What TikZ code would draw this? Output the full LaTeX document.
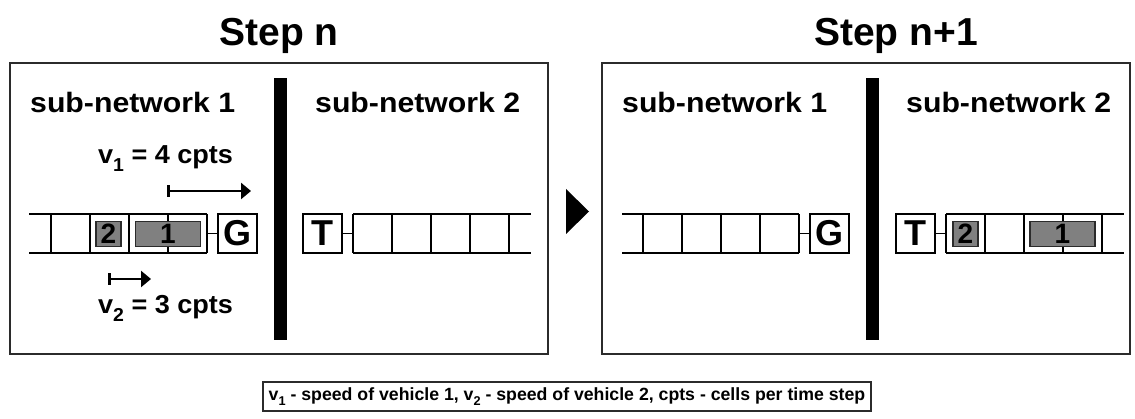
\documentclass[tikz,border=0pt]{standalone}
\usepackage{graphicx}
\usepackage{fontspec}
\setmainfont{Liberation Sans}
\usetikzlibrary{arrows.meta}
\definecolor{frame}{HTML}{2B2B2B}
\definecolor{carfill}{HTML}{808080}
% lowered index for the speed symbols
\newcommand\vsub[1]{\raisebox{-0.27em}{\scalebox{0.72}{#1}}}
% slightly widened bold lettering
\newcommand\wide[2]{\scalebox{#1}[1]{#2}}

\begin{document}
\begin{tikzpicture}[x=1pt,y=-1pt,
  panel/.style={draw=frame, line width=1.7pt},
  lane/.style={draw=black, line width=1.9pt},
  term/.style={draw=black, line width=1.9pt, fill=white, minimum width=39pt,
    minimum height=39pt, inner sep=0pt, font=\fontsize{36}{36}\selectfont\bfseries},
  vehicle/.style={draw=frame, line width=1.7pt, fill=carfill, minimum height=25pt,
    inner sep=0pt, font=\fontsize{28}{28}\selectfont\bfseries},
  title/.style={font=\fontsize{39}{39}\selectfont\bfseries, inner sep=0pt, anchor=base},
  label/.style={font=\fontsize{28}{28}\selectfont\bfseries, inner sep=0pt, anchor=base west},
  vlabel/.style={font=\fontsize{26}{26}\selectfont\bfseries, inner sep=0pt, anchor=base west},
  speed/.style={line width=2.6pt, {Bar[width=12pt]}-{Triangle[length=10pt,width=16pt]}},
]
\useasboundingbox (0,0) rectangle (1135,419);

% titles
\node[title] (tn) at (279,46) {Step n};
\node[title] (tn1) at (896,46) {Step n+1};

% panels and dividers
\draw[panel] (10,63) rectangle (548,354);
\draw[panel] (602,63) rectangle (1130,354);
\fill (274,78) rectangle (287,340);
\fill (866,78) rectangle (879,340);

% sub-network labels
\node[label] (a1) at (30,113) {\wide{1.08}{sub-network 1}};
\node[label] (a2) at (315,113) {\wide{1.08}{sub-network 2}};
\node[label] (b1) at (622,113) {\wide{1.08}{sub-network 1}};
\node[label] (b2) at (906,113) {\wide{1.08}{sub-network 2}};

% ---- step n, sub-network 1 lane
\draw[lane] (29,214) -- (207,214) (29,253) -- (207,253);
\foreach \x in {51,90,129,168,207} \draw[lane] (\x,214) -- (\x,253);
\node[term] (g1) at (237.5,233.5) {G};
\coordinate (e1) at (207,233.5);
\draw[lane] (e1) -- (g1.west);
\node[vehicle, minimum width=25pt] (c2a) at (108.5,234) {2};
\node[vehicle, minimum width=65pt] (c1a) at (168,234) {1};

% ---- step n, sub-network 2 lane
\node[term] (t1) at (322.5,233.5) {T};
\coordinate (s1) at (353,233.5);
\draw[lane] (t1.east) -- (s1);
\draw[lane] (353,214) -- (531,214) (353,253) -- (531,253);
\foreach \x in {353,392,431,470,509} \draw[lane] (\x,214) -- (\x,253);

% speeds
\node[vlabel] (v1) at (98,164) {\wide{1.04}{v\vsub{1} = 4 cpts}};
\coordinate (v1s) at (167,191);
\coordinate (v1e) at (251,191);
\draw[speed] (v1s) -- (v1e);
\coordinate (v2s) at (108,279);
\coordinate (v2e) at (151,279);
\draw[speed] (v2s) -- (v2e);
\node[vlabel] (v2) at (98,314) {\wide{1.04}{v\vsub{2} = 3 cpts}};

% transition marker
\fill (566,189) -- (589,211.5) -- (566,234) -- cycle;

% ---- step n+1, sub-network 1 lane
\draw[lane] (622,214) -- (799,214) (622,253) -- (799,253);
\foreach \x in {643,682,721,760,799} \draw[lane] (\x,214) -- (\x,253);
\node[term] (g2) at (829.5,233.5) {G};
\coordinate (e2) at (799,233.5);
\draw[lane] (e2) -- (g2.west);

% ---- step n+1, sub-network 2 lane
\node[term] (t2) at (915.5,233.5) {T};
\coordinate (s2) at (946,233.5);
\draw[lane] (t2.east) -- (s2);
\draw[lane] (946,214) -- (1124,214) (946,253) -- (1124,253);
\foreach \x in {946,985,1024,1063,1102} \draw[lane] (\x,214) -- (\x,253);
\node[vehicle, minimum width=25pt] (c2b) at (965.5,234) {2};
\node[vehicle, minimum width=65pt] (c1b) at (1062.5,234) {1};

% legend
\node[draw=frame, line width=1.7pt, minimum width=608pt, minimum height=29pt, inner sep=0pt,
  font=\fontsize{17.7}{17.7}\selectfont\bfseries] (key) at (567,396.5)
  {v\vsub{1} - speed of vehicle 1, v\vsub{2} - speed of vehicle 2, cpts - cells per time step};
\end{tikzpicture}
\end{document}
